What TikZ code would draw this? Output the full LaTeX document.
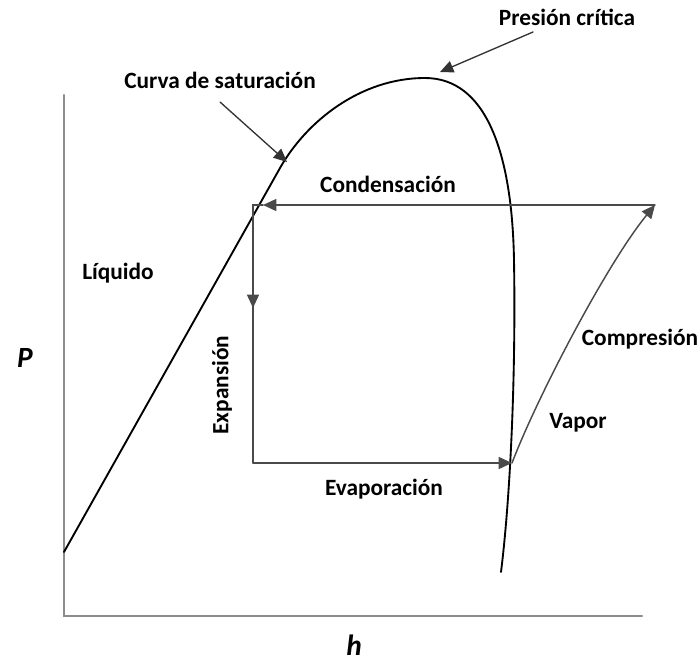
\documentclass[tikz,border=0pt]{standalone}
\usepackage{fontspec}
\setmainfont{Carlito}
\usetikzlibrary{arrows.meta}
\definecolor{axisgray}{HTML}{8C8C8C}
\definecolor{cyclegray}{HTML}{4A4A4A}
\tikzset{label/.style={font=\fontsize{17.5}{20}\selectfont\bfseries,inner sep=1pt},axislabel/.style={font=\fontsize{22}{26}\selectfont\bfseries\itshape,inner sep=1pt},axis/.style={axisgray,line width=1.6pt},dome/.style={black,line width=1.4pt},cycle/.style={cyclegray,line width=1.1pt},tip/.style={-{Triangle[length=10pt,width=9pt]}},pointer/.style={black!80,line width=1pt,-{Triangle[length=10pt,width=9pt]}},every picture/.style={line cap=round}}

\begin{document}
\begin{tikzpicture}[x=0.75pt,y=-0.75pt]
\useasboundingbox (0,0) rectangle (700,662);
% axes
\coordinate (o) at (64,616); \coordinate (ytop) at (64,95); \coordinate (xend) at (642,616);
\draw[axis] (ytop)--(o)--(xend);
\node[axislabel] (p) at (25,358) {P};
\node[axislabel] (h) at (354,645) {h};
% saturation dome
\coordinate (d0) at (64,552); \coordinate (crit) at (425,78); \coordinate (d9) at (501,572);
\draw[dome] (d0)--(280,168) .. controls (306,122) and (360,78) .. (crit) .. controls (485,78) and (512,150) .. (514,260) .. controls (516,380) and (510,500) .. (d9);
% cycle
\coordinate (k1) at (253,205); \coordinate (k2) at (253,463); \coordinate (k3) at (512,463); \coordinate (k4) at (655,205);
\coordinate (m1) at (263,205); \coordinate (m2) at (253,308);
\draw[cycle,tip] (k4)--(m1); \draw[cycle] (m1)--(k1)--(m2);
\draw[cycle,tip] (k1)--(m2); \draw[cycle] (m2)--(k2);
\draw[cycle,tip] (k2)--(k3);
\draw[cycle,tip] (k3) .. controls (538,395) and (608,262) .. (k4);
% labels
\node[label] (pc) at (567,17) {Presión crítica};
\node[label] (cs) at (220,80) {Curva de saturación};
\node[label] (cond) at (388,184) {Condensación};
\node[label] (liq) at (118,273) {Líquido};
\node[label] (comp) at (640,339) {Compresión};
\node[label] (vap) at (578,423) {Vapor};
\node[label,rotate=90] (exp) at (222,385) {Expansión};
\node[label] (evap) at (384,489) {Evaporación};
\coordinate (pc0) at (533,32); \coordinate (pc1) at (440,72);
\coordinate (cs0) at (220,102); \coordinate (cs1) at (287,162);
\draw[pointer] (pc0)--(pc1);
\draw[pointer] (cs0)--(cs1);
\end{tikzpicture}
\end{document}
